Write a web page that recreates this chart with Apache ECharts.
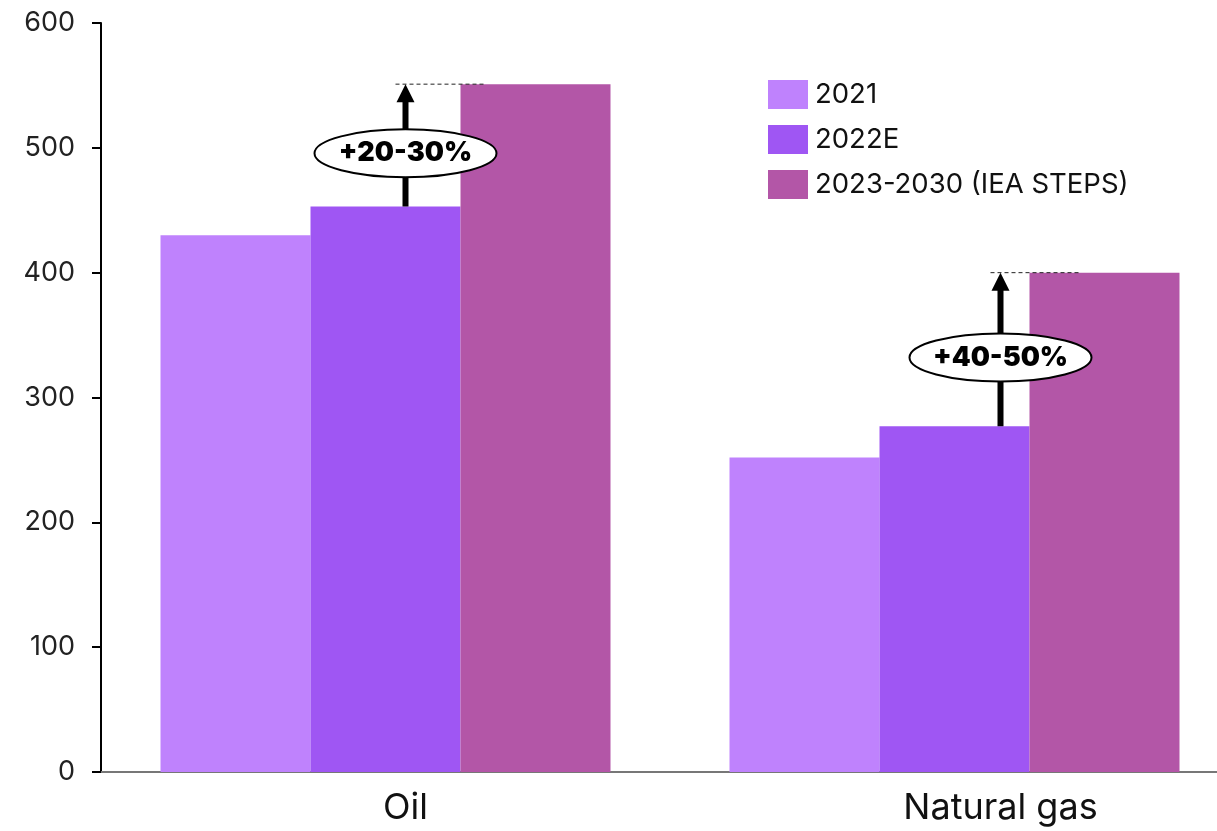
<!DOCTYPE html>
<html>
<head>
<meta charset="utf-8">
<script src="https://cdn.jsdelivr.net/npm/echarts@6/dist/echarts.min.js"></script>
<style>
  html, body { margin: 0; padding: 0; background: #ffffff; }
  #chart { width: 1217px; height: 831px; }
</style>
</head>
<body>
<div id="chart"></div>
<script>
// Categories and series values
const categories = ['Oil', 'Natural gas'];
const seriesNames = ['2021', '2022E', '2023-2030 (IEA STEPS)'];
const values2021 = [430, 252];
const values2022E = [453, 277];
const values2030 = [551, 400];
const growthLabels = ['+20-30%', '+40-50%'];
const yTicks = [0, 100, 200, 300, 400, 500, 600];

// Styling
const FONT = 'Inter, "Noto Sans", sans-serif';
const colors = ['#bf82fd', '#9f56f3', '#b356a7'];
const labelShift = [20, 46]; // horizontal shift of category label / growth arrow

const chart = echarts.init(document.getElementById('chart'), null, { renderer: 'canvas' });

// Growth annotations: arrow from 2022E level up to 2023-2030 level
const annotations = categories.map((c, i) => [i, values2022E[i], values2030[i]]);

function renderGrowth(params, api) {
  const i = api.value(0);
  const base = api.coord([i, api.value(1)]);
  const top = api.coord([i, api.value(2)]);
  const x = base[0] + labelShift[params.dataIndex];
  const midY = (base[1] + top[1]) / 2 + 8;
  return {
    type: 'group',
    children: [
      { type: 'line', shape: { x1: x - 10, y1: top[1], x2: x + 79, y2: top[1] },
        style: { stroke: '#222', lineWidth: 1, lineDash: [4, 3] } },
      { type: 'line', shape: { x1: x, y1: base[1], x2: x, y2: top[1] + 16 },
        style: { stroke: '#000', lineWidth: 6 } },
      { type: 'polygon', shape: { points: [[x - 9, top[1] + 18], [x + 9, top[1] + 18], [x, top[1]]] },
        style: { fill: '#000' } },
      { type: 'ellipse', shape: { cx: x, cy: midY, rx: 91, ry: 24 },
        style: { fill: '#fff', stroke: '#000', lineWidth: 2 } },
      { type: 'text', x: x, y: midY,
        style: { text: growthLabels[params.dataIndex], fill: '#000', font: '900 27px ' + FONT,
                 align: 'center', verticalAlign: 'middle' } }
    ]
  };
}

const option = {
  backgroundColor: '#ffffff',
  animation: false,
  grid: { left: 101, right: -22, top: 23, bottom: 59, outerBoundsMode: 'none', containLabel: false },
  legend: {
    data: seriesNames,
    orient: 'vertical',
    left: 763,
    top: 75,
    itemWidth: 40,
    itemHeight: 29,
    itemGap: 16,
    icon: 'rect',
    textStyle: { fontFamily: FONT, fontSize: 27.5, color: '#111', padding: [0, 0, 0, 2] }
  },
  xAxis: {
    type: 'category',
    data: categories,
    axisLine: { lineStyle: { color: '#777', width: 2 } },
    axisTick: { show: false },
    axisLabel: {
      margin: 18,
      fontFamily: FONT,
      fontSize: 36,
      color: '#111',
      formatter: (v, idx) => '{c' + idx + '|' + v + '}',
      rich: {
        c0: { fontFamily: FONT, fontSize: 36, color: '#111', padding: [0, 0, 0, labelShift[0] * 2] },
        c1: { fontFamily: FONT, fontSize: 36, color: '#111', padding: [0, 0, 0, labelShift[1] * 2] }
      }
    }
  },
  yAxis: {
    type: 'value',
    min: yTicks[0],
    max: yTicks[yTicks.length - 1],
    interval: 100,
    axisLine: { show: true, lineStyle: { color: '#000', width: 2 } },
    axisTick: { show: true, length: 9, lineStyle: { color: '#000', width: 2 } },
    splitLine: { show: false },
    axisLabel: { margin: 26, fontFamily: FONT, fontSize: 27, color: '#222' }
  },
  series: [
    { name: seriesNames[0], type: 'bar', data: values2021, barWidth: 150, barGap: '0%',
      itemStyle: { color: colors[0] } },
    { name: seriesNames[1], type: 'bar', data: values2022E, barWidth: 150, barGap: '0%',
      itemStyle: { color: colors[1] } },
    { name: seriesNames[2], type: 'bar', data: values2030, barWidth: 150, barGap: '0%',
      itemStyle: { color: colors[2] } },
    { type: 'custom', data: annotations, renderItem: renderGrowth, clip: false, z: 10,
      silent: true, encode: { x: 0, y: [1, 2] } }
  ]
};

chart.setOption(option);
</script>
</body>
</html>
